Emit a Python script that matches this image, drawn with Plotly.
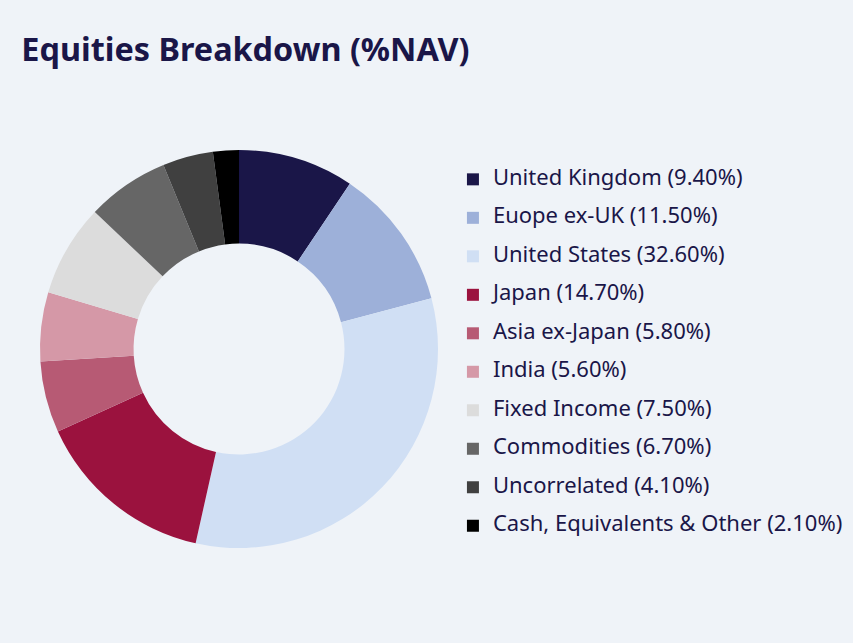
import plotly.graph_objects as go

names = ["United Kingdom", "Euope ex-UK", "United States", "Japan", "Asia ex-Japan",
         "India", "Fixed Income", "Commodities", "Uncorrelated", "Cash, Equivalents & Other"]
values = [9.40, 11.50, 32.60, 14.70, 5.80, 5.60, 7.50, 6.70, 4.10, 2.10]
colors = ["#1a1648", "#9db0d9", "#d0dff4", "#9b123e", "#b75a74",
          "#d598a7", "#dcdcdc", "#666666", "#404040", "#000000"]

# legend rows need more room than plotly gives one line, so each label
# gets an empty second line and the visible text is sized up in a span
labels = ['<span style="font-size:22px">%s (%.2f%%)</span><br>&nbsp;' % (n, v)
          for n, v in zip(names, values)]

fig = go.Figure(go.Pie(
    labels=labels,
    values=values,
    marker=dict(colors=colors, line=dict(width=0)),
    hole=0.53,
    sort=False,
    direction="clockwise",
    textinfo="none",
    domain=dict(x=[0.0469, 0.5135], y=[0.1477, 0.7667]),
))

fig.update_layout(
    width=853, height=643,
    margin=dict(t=0, l=0, r=0, b=0),
    paper_bgcolor="#eff3f8",
    plot_bgcolor="#eff3f8",
    font=dict(family="Noto Sans", color="#1a1648"),
    title=dict(text="<b>Equities Breakdown (%NAV)</b>", x=0.025, xanchor="left",
               y=0.922, yanchor="middle", font=dict(size=32.4, color="#1a1648")),
    legend=dict(x=0.531, y=0.745, xanchor="left", yanchor="top", valign="top",
                font=dict(size=13.65, color="#1a1648"), bgcolor="rgba(0,0,0,0)"),
)

# drop the page's default body margin so the figure fills the window
fig.write_html("out.html", config={"displayModeBar": False},
               post_script="document.body.style.margin='0';")
